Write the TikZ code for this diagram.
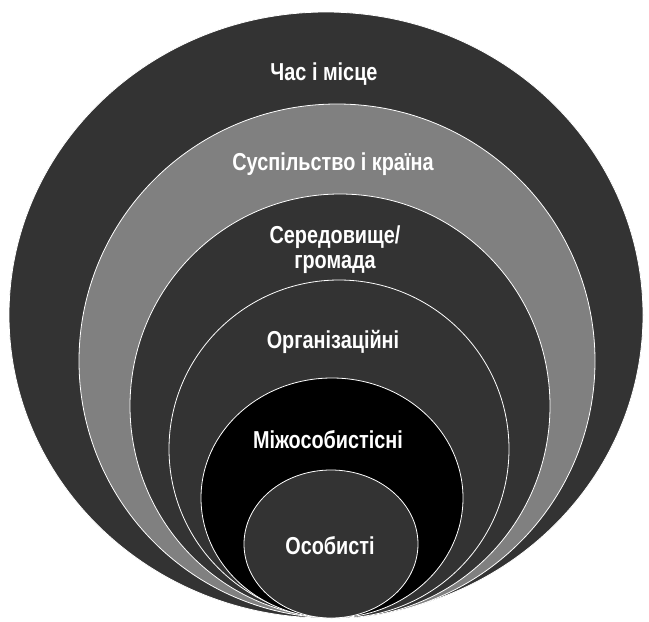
\documentclass[tikz,border=0pt]{standalone}
\usepackage{fontspec}
\setmainfont{Liberation Sans}[FakeStretch=0.81]
\usetikzlibrary{positioning}

\definecolor{ringdark}{HTML}{333333}
\definecolor{ringgray}{HTML}{808080}

\begin{document}
\begin{tikzpicture}[x=1pt, y=-1pt,
    ring/.style={draw=white, line width=0.8pt},
    lbl/.style={text=white, font=\bfseries\fontsize{24.5}{25}\selectfont, align=center}]
    \useasboundingbox (0,0) rectangle (649,622);

    % Rings, outer to inner
    \foreach \cx/\cy/\rx/\ry/\col in {326/315/317/303/ringdark, 337/361/258/257/ringgray, 340/406/210/212/ringdark, 339/449/170/169/ringdark, 332/498/131/120/black, 331/544/87/74/ringdark} {
        \filldraw[ring, fill=\col] (\cx,\cy) ellipse [x radius=\rx pt, y radius=\ry pt];
    }

    % Labels
    \node[lbl] (time) at (324,74) {Час і місце};
    \node[lbl] (society) at (333,164) {Суспільство і країна};
    \node[lbl] (community) at (335,250) {Середовище/\\громада};
    \node[lbl] (org) at (333,342) {Організаційні};
    \node[lbl] (inter) at (328,440) {Міжособистісні};
    \node[lbl] (personal) at (330,546) {Особисті};
\end{tikzpicture}
\end{document}
